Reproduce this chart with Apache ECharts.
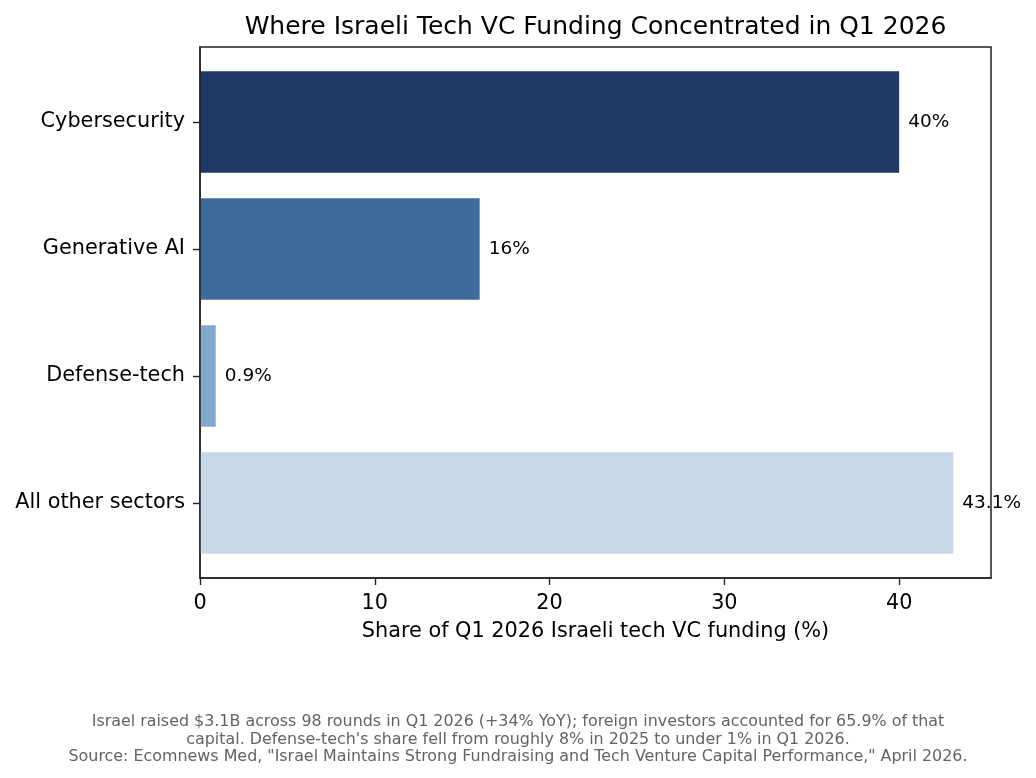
<!DOCTYPE html>
<html>
<head>
<meta charset="utf-8">
<script src="https://cdn.jsdelivr.net/npm/echarts@6/dist/echarts.min.js"></script>
<style>
html,body{margin:0;padding:0;background:#fff;}
#chart{width:1036px;height:778px;}
</style>
</head>
<body>
<div id="chart"></div>
<script>
const categories = ['Cybersecurity', 'Generative AI', 'Defense-tech', 'All other sectors'];
const shares = [40, 16, 0.9, 43.1];
const valueLabels = ['40%', '16%', '0.9%', '43.1%'];
const barColors = ['#203864', '#3e6b9a', '#84a8cc', '#c7d6e9'];
const xTicks = [0, 10, 20, 30, 40];
const xMax = 43.1 * 1.05;

const FONT = 'DejaVu Sans';
const plotLeft = 200, plotRight = 45, plotTop = 47, plotHeight = 531;
// matplotlib-style y margins: bars span -0.4..3.4, padded 5%
const unit = plotHeight / 4.18;
const barTop = plotTop + 0.09 * unit;
const barHeight = 4 * unit;

const chart = echarts.init(document.getElementById('chart'), null, {renderer: 'canvas'});
chart.setOption({
  animation: false,
  backgroundColor: '#ffffff',
  title: {
    text: 'Where Israeli Tech VC Funding Concentrated in Q1 2026',
    left: 590.5,
    top: 10,
    textAlign: 'center',
    textStyle: {fontFamily: FONT, fontSize: 25, fontWeight: 'normal', color: '#000'}
  },
  grid: [
    {left: plotLeft, right: plotRight, top: plotTop, height: plotHeight, show: true,
     borderColor: '#222', borderWidth: 1.5, backgroundColor: 'transparent'},
    {left: plotLeft, right: plotRight, top: barTop, height: barHeight}
  ],
  xAxis: [
    {type: 'value', gridIndex: 0, min: 0, max: xMax,
     axisLine: {show: true, lineStyle: {color: '#222', width: 1.5}},
     axisTick: {show: true, length: 7, customValues: xTicks, lineStyle: {color: '#222', width: 1.4}},
     axisLabel: {show: true, customValues: xTicks, margin: 15, color: '#000', fontFamily: FONT, fontSize: 20.8},
     splitLine: {show: false},
     name: 'Share of Q1 2026 Israeli tech VC funding (%)',
     nameLocation: 'middle', nameGap: 43,
     nameTextStyle: {fontFamily: FONT, fontSize: 20.8, color: '#000'}},
    {type: 'value', gridIndex: 1, min: 0, max: xMax, show: false}
  ],
  yAxis: [
    {type: 'value', gridIndex: 0, min: 0, max: 1, z: 5,
     axisLine: {show: true, lineStyle: {color: '#222', width: 1.5}},
     axisTick: {show: false}, axisLabel: {show: false}, splitLine: {show: false}},
    {type: 'category', gridIndex: 1, data: categories, inverse: true,
     axisLine: {show: false},
     axisTick: {show: true, alignWithLabel: true, length: 7, lineStyle: {color: '#222', width: 1.4}},
     axisLabel: {margin: 15, color: '#000', fontFamily: FONT, fontSize: 20.8, padding: [4, 0, 0, 0]},
     splitLine: {show: false}}
  ],
  series: [{
    type: 'bar',
    xAxisIndex: 1, yAxisIndex: 1,
    barCategoryGap: '20%',
    data: shares.map((v, i) => ({value: v, itemStyle: {color: barColors[i]}})),
    label: {
      show: true, position: 'right', distance: 9,
      formatter: p => valueLabels[p.dataIndex],
      fontFamily: FONT, fontSize: 18.5, color: '#000'
    },
    z: 2
  }],
  graphic: [{
    type: 'text',
    x: 518, y: 739.5,
    style: {
      text: 'Israel raised $3.1B across 98 rounds in Q1 2026 (+34% YoY); foreign investors accounted for 65.9% of that\ncapital. Defense-tech\'s share fell from roughly 8% in 2025 to under 1% in Q1 2026.\nSource: Ecomnews Med, "Israel Maintains Strong Fundraising and Tech Venture Capital Performance," April 2026.',
      fontFamily: FONT, fontSize: 15.9, lineHeight: 17.6, fill: '#636363',
      align: 'center', verticalAlign: 'middle'
    }
  }]
});
</script>
</body>
</html>
